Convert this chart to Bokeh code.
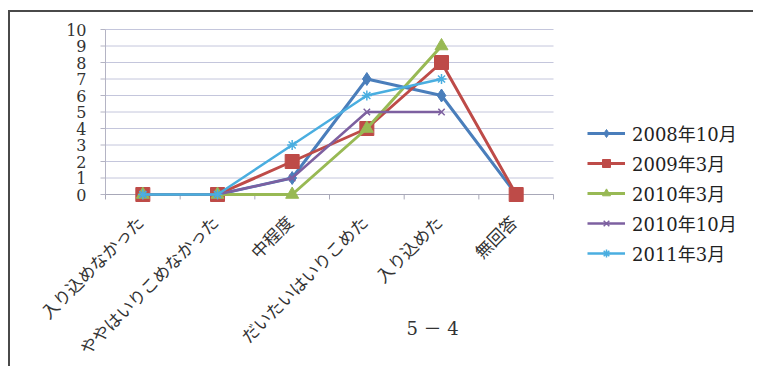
import math
from bokeh.plotting import figure
from bokeh.models import Range1d, Legend, LegendItem, Label, ColumnDataSource
from bokeh.core.properties import value
from bokeh.embed import file_html
from bokeh.resources import INLINE

nan = float("nan")

# ---- data ----
categories = ["入り込めなかった", "ややはいりこめなかった", "中程度",
              "だいたいはいりこめた", "入り込めた", "無回答"]
series_names = ["2008年10月", "2009年3月", "2010年3月", "2010年10月", "2011年3月"]
s2008_10 = [0, 0, 1, 7, 6, 0]
s2009_03 = [0, 0, 2, 4, 8, 0]
s2010_03 = [0, 0, 0, 4, 9, nan]
s2010_10 = [0, 0, 1, 5, 5, nan]
s2011_03 = [0, 0, 3, 6, 7, nan]
y_ticks = list(range(0, 11))
y_tick_labels = [str(t) for t in y_ticks]
note_text = "5 － 4"

series_values = [s2008_10, s2009_03, s2010_03, s2010_10, s2011_03]
colors = ["#4a7ebb", "#be4b48", "#98b954", "#7d60a0", "#4aaee0"]
markers = ["diamond", "square", "triangle", "x", "asterisk"]
msizes = [13, 14, 13, 9, 10]
lwidths = [3, 3, 3, 2.5, 2.5]

SERIF = "'DejaVu Serif', 'Noto Sans CJK JP'"
CJK = "'Noto Sans CJK JP'"

# layout (pixels); the frame covers the whole canvas
W, H = 745, 356
TOP, LEFT = 17, 95          # position of the plot area inside the canvas
PX_PER_UNIT = 16.5          # vertical pixels per count
PX_PER_CAT = 74.67          # horizontal pixels per category
n = len(categories)
xs = [i + 0.5 for i in range(n)]          # category centres on the x scale
bounds = list(range(n + 1))                # category boundaries
y_top = y_ticks[-1]
y_max = y_top + TOP / PX_PER_UNIT
y_min = y_top - (H - TOP) / PX_PER_UNIT
x_min = -LEFT / PX_PER_CAT
x_max = (W - LEFT) / PX_PER_CAT

p = figure(x_range=Range1d(x_min, x_max), y_range=Range1d(y_min, y_max),
           width=W, height=H, x_axis_location=None, y_axis_location=None,
           output_backend="svg", toolbar_location=None,
           min_border=0, background_fill_color="white", border_fill_color="white")
p.styles = {"border-top": "2px solid #4a4a4a", "border-left": "2px solid #4a4a4a",
            "margin-left": "8px", "margin-top": "10px"}
p.outline_line_color = None
p.grid.visible = False

# horizontal gridlines over the category area
p.segment(x0=[bounds[0]] * len(y_ticks), x1=[bounds[-1]] * len(y_ticks),
          y0=y_ticks, y1=y_ticks, line_color="#c4c6dc", line_width=1)

# value axis: line, outward ticks, labels
tick_len = 5 / PX_PER_CAT
p.segment(x0=[bounds[0]], x1=[bounds[0]], y0=[y_ticks[0]], y1=[y_ticks[-1]],
          line_color="#b4b4c4", line_width=1)
p.segment(x0=[bounds[0]] * len(y_ticks), x1=[bounds[0] - tick_len] * len(y_ticks),
          y0=y_ticks, y1=y_ticks, line_color="#b4b4c4", line_width=1)
p.text(x=[bounds[0]] * len(y_ticks), y=y_ticks, text=y_tick_labels,
       x_offset=-19, text_align="right", text_baseline="middle",
       text_font=value(SERIF), text_font_size="16px", text_color="#333333")

# category axis: line at zero, boundary tick marks, rotated labels
p.segment(x0=[bounds[0]], x1=[bounds[-1]], y0=[0], y1=[0],
          line_color="#a8a8b8", line_width=1)
p.segment(x0=bounds, x1=bounds, y0=[0] * len(bounds), y1=[-0.3] * len(bounds),
          line_color="#a8a8b8", line_width=1)
label_y = -24 / PX_PER_UNIT
p.text(x=xs, y=[label_y] * n, text=categories,
       angle=math.pi / 4, text_align="right", text_baseline="middle",
       x_offset=-3, text_font=value(CJK), text_font_size="17px",
       text_color="#333333")

items = []
for name, vals, c, m, ms, lw in zip(series_names, series_values, colors, markers, msizes, lwidths):
    src = ColumnDataSource(dict(x=xs, y=vals))
    r1 = p.line("x", "y", source=src, line_color=c, line_width=lw)
    r2 = p.scatter("x", "y", source=src, marker=m, size=ms, fill_color=c,
                   line_color=c, line_width=1.5 if m in ("x", "asterisk") else 1)
    items.append(LegendItem(label=name, renderers=[r1, r2]))

legend = Legend(items=items, location=(577, 102), orientation="vertical",
                padding=0, margin=0, spacing=4, glyph_width=38, glyph_height=20,
                label_height=20, label_standoff=7,
                label_text_font=SERIF, label_text_font_size="18px",
                label_text_color="#222222",
                border_line_color=None, background_fill_alpha=0)
p.add_layout(legend)

p.add_layout(Label(x=4.38, y=-134 / PX_PER_UNIT, text=note_text, text_align="center",
                   text_baseline="middle", text_font=SERIF,
                   text_font_size="18px", text_color="#333333"))

open("out.html", "w").write(file_html(p, INLINE))
